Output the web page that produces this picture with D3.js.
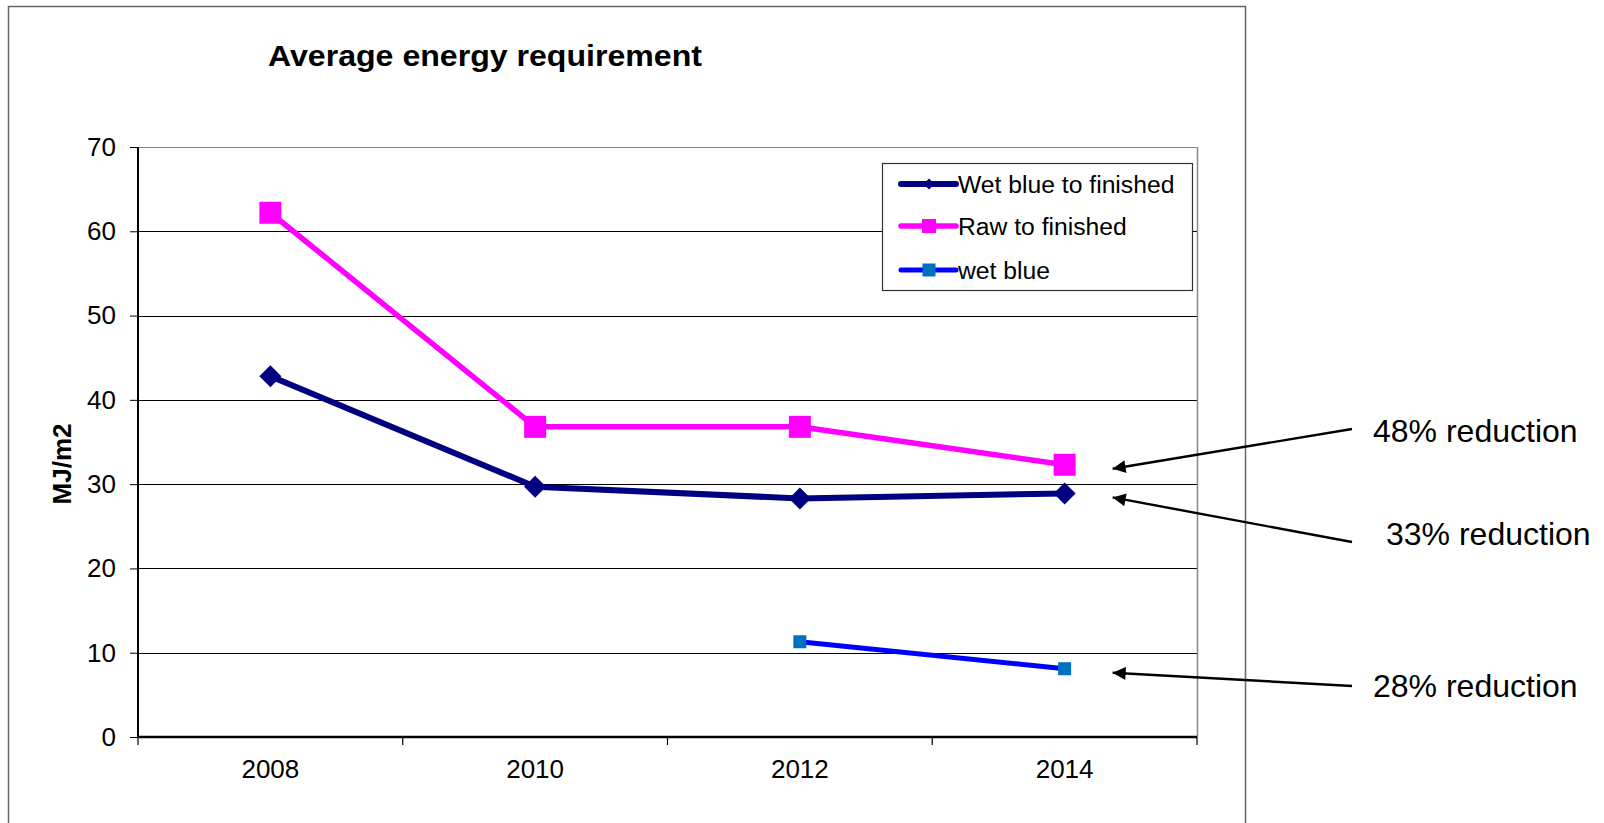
<!DOCTYPE html>
<html><head><meta charset="utf-8">
<script src="https://cdn.jsdelivr.net/npm/d3@7"></script>
<style>body{margin:0;background:#fff}svg{display:block}text{font-family:"Liberation Sans",Arial,sans-serif}</style>
</head><body><svg id="c" width="1604" height="823"></svg>
<script>
const years = ["2008","2010","2012","2014"];
const wetBlueToFinished = [42.8, 29.7, 28.3, 28.9];
const rawToFinished = [62.2, 36.8, 36.8, 32.3];
const wetBlue = [null, null, 11.3, 8.1];
const yTicks = [0,10,20,30,40,50,60,70];
const seriesNames = ["Wet blue to finished","Raw to finished","wet blue"];
const annotations = [
  {label:"48% reduction", series:1},
  {label:"33% reduction", series:0},
  {label:"28% reduction", series:2}
];

const svg = d3.select("#c");
const L=138, R=1197, T=147, B=737;
const x = d3.scaleBand().domain(years).range([L,R]);
const y = d3.scaleLinear().domain([0,70]).range([B,T]);

// outer border
svg.append("rect").attr("x",8.5).attr("y",6.5).attr("width",1237).attr("height",840)
  .attr("fill","none").attr("stroke","#666").attr("stroke-width",1.5);

// title
svg.append("text").attr("x",485).attr("y",66).attr("text-anchor","middle")
  .attr("font-size",29).attr("font-weight","bold")
  .attr("textLength",434).attr("lengthAdjust","spacingAndGlyphs").text("Average energy requirement");

// gridlines
svg.append("g").selectAll("line").data(yTicks.filter(d=>d>0)).join("line")
  .attr("x1",L).attr("x2",R).attr("y1",d=>Math.round(y(d))+0.5).attr("y2",d=>Math.round(y(d))+0.5)
  .attr("stroke",d=>d===70?"#888":"#000").attr("stroke-width",1.2);
// right border of plot
svg.append("line").attr("x1",R+0.5).attr("x2",R+0.5).attr("y1",T).attr("y2",B)
  .attr("stroke","#888").attr("stroke-width",1.5);

// axes
const yAxis = svg.append("g").attr("transform",`translate(${L},0)`)
  .call(d3.axisLeft(y).tickValues(yTicks).tickSize(8).tickPadding(14));
yAxis.selectAll("text").attr("font-size",26).attr("fill","#000");
const xAxis = svg.append("g").attr("transform",`translate(0,${B})`)
  .call(d3.axisBottom(x).tickSize(0).tickPadding(23));
xAxis.selectAll("text").attr("font-size",26).attr("fill","#000");
xAxis.select(".domain").remove();
yAxis.select(".domain").remove();
// band boundary ticks
const bounds = years.map(d=>x(d)).concat([R]);
svg.append("g").selectAll("line").data(bounds).join("line")
  .attr("x1",d=>d).attr("x2",d=>d).attr("y1",B).attr("y2",B+8).attr("stroke","#000").attr("stroke-width",1.2);
svg.append("line").attr("x1",L).attr("x2",L).attr("y1",T).attr("y2",B).attr("stroke","#000").attr("stroke-width",2);
svg.append("line").attr("x1",L).attr("x2",R).attr("y1",B).attr("y2",B).attr("stroke","#000").attr("stroke-width",2.5);

// y title
svg.append("text").attr("transform","translate(71,464) rotate(-90)").attr("text-anchor","middle")
  .attr("font-size",26).attr("font-weight","bold").text("MJ/m2");

const cx = d=>x(d)+x.bandwidth()/2;
const series = [
  {name:seriesNames[0], vals:wetBlueToFinished, color:"#000080", width:6, marker:"diamond", mcolor:"#000080", msize:22},
  {name:seriesNames[1], vals:rawToFinished, color:"#FF00FF", width:5.5, marker:"square", mcolor:"#FF00FF", msize:22},
  {name:seriesNames[2], vals:wetBlue, color:"#0000FF", width:5, marker:"square", mcolor:"#0070C0", msize:13}
];
const line = d3.line().defined(d=>d.v!=null).x(d=>cx(d.k)).y(d=>y(d.v));
function drawMarker(g, s, px, py, sz){
  if(s.marker==="diamond"){
    const h=sz/2;
    g.append("path").attr("d",`M${px},${py-h}L${px+h},${py}L${px},${py+h}L${px-h},${py}Z`).attr("fill",s.mcolor);
  } else {
    g.append("rect").attr("x",px-sz/2).attr("y",py-sz/2).attr("width",sz).attr("height",sz).attr("fill",s.mcolor);
  }
}
series.forEach(s=>{
  const pts = years.map((k,i)=>({k, v:s.vals[i]}));
  svg.append("path").datum(pts).attr("d",line).attr("fill","none").attr("stroke",s.color)
    .attr("stroke-width",s.width).attr("stroke-linejoin","round").attr("stroke-linecap","round");
  const g = svg.append("g");
  pts.filter(p=>p.v!=null).forEach(p=>drawMarker(g,s,cx(p.k),y(p.v),s.msize));
});

// legend
const lg = svg.append("g");
lg.append("rect").attr("x",882.5).attr("y",163.5).attr("width",310).attr("height",127)
  .attr("fill","#fff").attr("stroke","#333").attr("stroke-width",1.2);
const ly = [184, 226, 270];
series.forEach((s,i)=>{
  lg.append("line").attr("x1",901).attr("x2",956).attr("y1",ly[i]).attr("y2",ly[i])
    .attr("stroke",s.color).attr("stroke-width",s.width).attr("stroke-linecap","round");
  drawMarker(lg,s,929,ly[i], i===0?11:(i===1?14:13));
  lg.append("text").attr("x",958).attr("y",ly[i]).attr("dy","0.35em").attr("font-size",24.7).text(s.name);
});

// annotations
svg.append("defs").append("marker").attr("id","ah").attr("viewBox","0 0 10 10").attr("refX",10).attr("refY",5)
  .attr("markerWidth",17).attr("markerHeight",13).attr("markerUnits","userSpaceOnUse").attr("orient","auto")
  .append("path").attr("d","M0,0L10,5L0,10Z").attr("fill","#000");
const annStart = [[1352,429],[1352,542],[1352,686]];
const annText = [[1373,442],[1386,545],[1373,697]];
annotations.forEach((a,i)=>{
  const s = series[a.series];
  const tx = cx("2014")+48, ty = y(s.vals[3])+4;
  svg.append("line").attr("x1",annStart[i][0]).attr("y1",annStart[i][1]).attr("x2",tx).attr("y2",ty)
    .attr("stroke","#000").attr("stroke-width",2.4).attr("marker-end","url(#ah)");
  svg.append("text").attr("x",annText[i][0]).attr("y",annText[i][1]).attr("font-size",32).text(a.label);
});
</script></body></html>
